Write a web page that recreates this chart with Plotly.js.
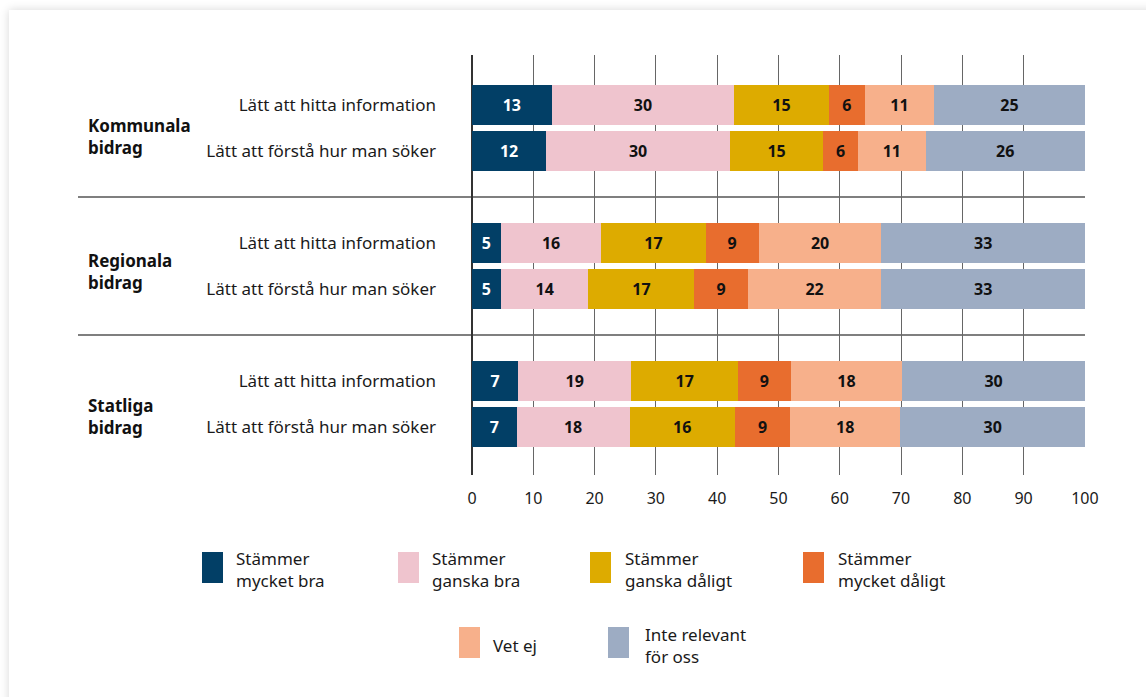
<!DOCTYPE html>
<html>
<head>
<meta charset="utf-8">
<script src="https://cdn.plot.ly/plotly-3.0.1.min.js"></script>
<style>
  html, body { margin:0; padding:0; background:#ffffff; width:1146px; height:697px; overflow:hidden; }
  #card { position:absolute; left:9px; top:10px; width:1160px; height:720px; background:#fff; box-shadow:0 0 9px rgba(0,0,0,0.16); }
  #chart { position:absolute; left:0; top:0; width:1146px; height:697px; }
</style>
</head>
<body>
<div id="card"></div>
<div id="chart"></div>
<script>
// ---- data ----
const groups = ['Kommunala<br>bidrag', 'Regionala<br>bidrag', 'Statliga<br>bidrag'];
const items = ['Lätt att hitta information', 'Lätt att förstå hur man söker'];
const seriesNames = ['Stämmer<br>mycket bra', 'Stämmer<br>ganska bra', 'Stämmer<br>ganska dåligt',
                     'Stämmer<br>mycket dåligt', 'Vet ej', 'Inte relevant<br>för oss'];
// bar lengths (percent) per row: Kommunala hitta, Kommunala förstå, Regionala hitta, Regionala förstå, Statliga hitta, Statliga förstå
const mycketBra    = [13.0, 12.1,  4.7,  4.7,  7.5,  7.3];
const ganskaBra    = [29.8, 30.0, 16.4, 14.3, 18.5, 18.4];
const ganskaDaligt = [15.4, 15.2, 17.0, 17.3, 17.4, 17.2];
const mycketDaligt = [ 5.9,  5.7,  8.7,  8.7,  8.6,  9.0];
const vetEj        = [11.3, 11.0, 20.0, 21.8, 18.2, 18.0];
const inteRelevant = [24.6, 26.0, 33.2, 33.2, 29.8, 30.1];
// printed labels
const lblMycketBra    = [13, 12,  5,  5,  7,  7];
const lblGanskaBra    = [30, 30, 16, 14, 19, 18];
const lblGanskaDaligt = [15, 15, 17, 17, 17, 16];
const lblMycketDaligt = [ 6,  6,  9,  9,  9,  9];
const lblVetEj        = [11, 11, 20, 22, 18, 18];
const lblInteRelevant = [25, 26, 33, 33, 30, 30];
const xTicks = [0, 10, 20, 30, 40, 50, 60, 70, 80, 90, 100];

// ---- styles ----
const colors = ['#023f66', '#efc4ce', '#ddab00', '#e86d2e', '#f7b08b', '#9dacc3'];
const textColors = ['#ffffff', '#111111', '#111111', '#111111', '#111111', '#111111'];
const FONT = 'Noto Sans, Open Sans, sans-serif';

const values = [mycketBra, ganskaBra, ganskaDaligt, mycketDaligt, vetEj, inteRelevant];
const labels = [lblMycketBra, lblGanskaBra, lblGanskaDaligt, lblMycketDaligt, lblVetEj, lblInteRelevant];

// row positions derived from group/item structure (one blank slot between groups)
const yPos = [];
const yText = [];
groups.forEach((g, gi) => items.forEach((it, ii) => { yPos.push(gi * (items.length + 1) + ii); yText.push(it); }));

const traces = values.map((v, i) => ({
  type: 'bar', orientation: 'h',
  x: v, y: yPos,
  name: seriesNames[i],
  marker: { color: colors[i], line: { width: 0 } },
  width: 0.86,
  text: labels[i].map(String),
  texttemplate: '%{text}',
  textposition: 'inside',
  insidetextanchor: 'middle',
  textangle: 0,
  constraintext: 'none',
  insidetextfont: { family: FONT, size: 16, color: textColors[i], weight: 700 },
  hoverinfo: 'skip',
  showlegend: false,
  cliponaxis: false
}));

// plot geometry in pixels
const W = 1146, H = 697;
const M = { l: 472, r: 61, t: 55, b: 222 };
const pw = W - M.l - M.r, ph = H - M.t - M.b;
const px = x => (x - M.l) / pw;
const py = y => (H - M.b - y) / ph;

const shapes = [];
const annotations = [];

// group separators
for (let gi = 1; gi < groups.length; gi++) {
  const yv = gi * (items.length + 1) - 1;
  shapes.push({ type: 'line', xref: 'paper', yref: 'y', x0: px(78), x1: 1, y0: yv, y1: yv,
                line: { color: '#555555', width: 1.5 }, layer: 'below' });
}
// group labels
const groupLabelY = [136, 271.5, 416];
groups.forEach((g, gi) => {
  annotations.push({ xref: 'paper', yref: 'paper', x: px(85.5), y: py(groupLabelY[gi]),
    xanchor: 'left', yanchor: 'middle', align: 'left', showarrow: false, text: g,
    font: { family: FONT, size: 17, color: '#111111', weight: 700 } });
});

// custom legend
const legPos = [
  { sx: 202, sy: 552, tx: 234, ty: 569 },
  { sx: 398, sy: 552, tx: 430, ty: 569 },
  { sx: 590, sy: 552, tx: 623, ty: 569 },
  { sx: 803, sy: 552, tx: 836, ty: 569 },
  { sx: 459, sy: 627, tx: 491, ty: 645 },
  { sx: 608, sy: 627, tx: 643, ty: 645 }
];
seriesNames.forEach((n, i) => {
  const p = legPos[i];
  shapes.push({ type: 'rect', xref: 'paper', yref: 'paper',
    x0: px(p.sx), x1: px(p.sx + 21), y0: py(p.sy), y1: py(p.sy + 31),
    fillcolor: colors[i], line: { width: 0 } });
  annotations.push({ xref: 'paper', yref: 'paper', x: px(p.tx), y: py(p.ty),
    xanchor: 'left', yanchor: 'middle', align: 'left', showarrow: false, text: n,
    font: { family: FONT, size: 17, color: '#1a1a1a' } });
});

const layout = {
  width: W, height: H,
  margin: M,
  paper_bgcolor: 'rgba(0,0,0,0)',
  plot_bgcolor: 'rgba(0,0,0,0)',
  barmode: 'stack',
  bargap: 0,
  font: { family: FONT, size: 16, color: '#1a1a1a' },
  uniformtext: { mode: 'show', minsize: 16 },
  xaxis: {
    range: [0, 100.02], tickvals: xTicks, ticktext: xTicks.map(String),
    showgrid: true, gridcolor: '#666666', gridwidth: 1,
    zeroline: true, zerolinecolor: '#333333', zerolinewidth: 1.5,
    showline: false, ticks: '', ticklabelstandoff: 12,
    tickfont: { family: FONT, size: 16, color: '#1a1a1a' },
    fixedrange: true
  },
  yaxis: {
    range: [8.04, -1.087],
    tickvals: yPos, ticktext: yText,
    showgrid: false, zeroline: false, showline: false, ticks: '',
    ticklabelstandoff: 35,
    tickfont: { family: FONT, size: 17, color: '#1a1a1a' },
    fixedrange: true
  },
  shapes: shapes,
  annotations: annotations,
  showlegend: false
};

Plotly.newPlot('chart', traces, layout, { displayModeBar: false, staticPlot: true });
</script>
</body>
</html>
